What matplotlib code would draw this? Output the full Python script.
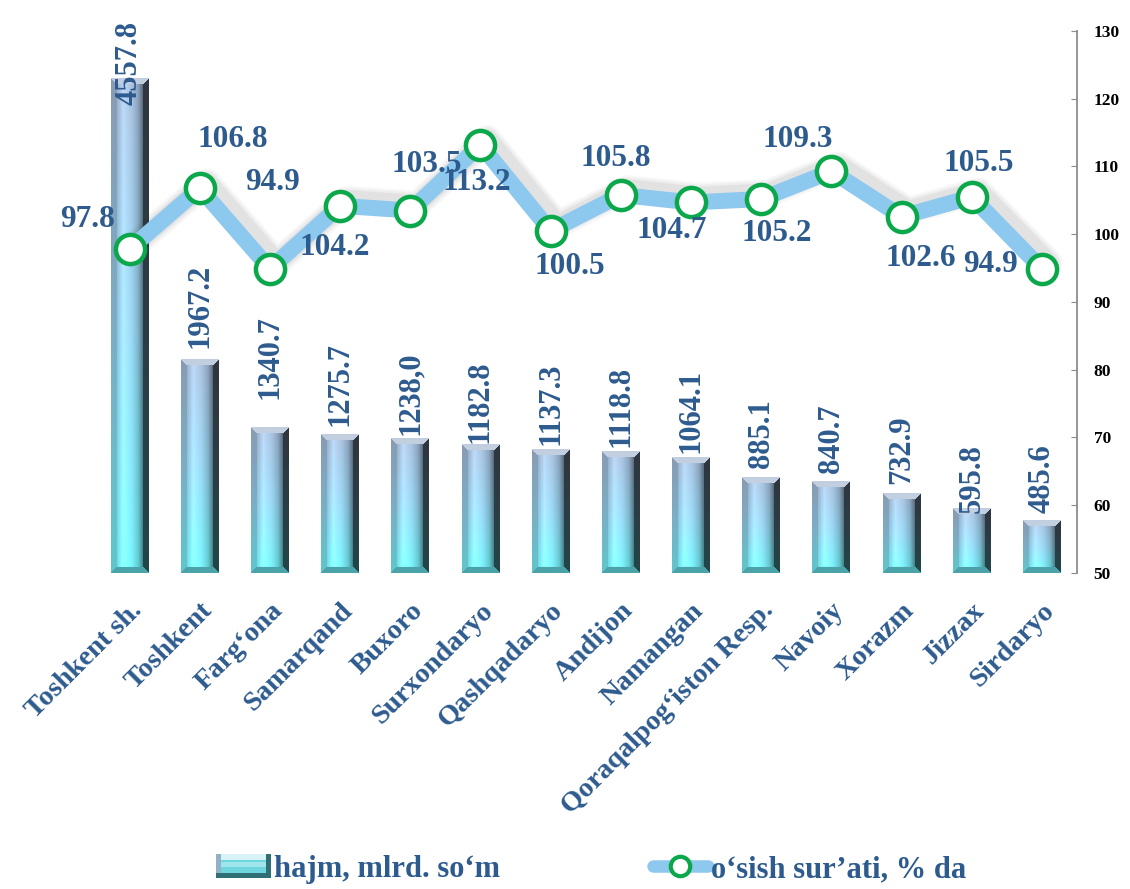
import numpy as np
import matplotlib
matplotlib.use("Agg")
import matplotlib.pyplot as plt
from matplotlib import transforms
from matplotlib.patches import Rectangle
from matplotlib.lines import Line2D
from matplotlib.legend_handler import HandlerBase

# ---------------- data ----------------
categories = ["Toshkent sh.", "Toshkent", "Farg\u2018ona", "Samarqand", "Buxoro",
              "Surxondaryo", "Qashqadaryo", "Andijon", "Namangan",
              "Qoraqalpog\u2018iston Resp.", "Navoiy", "Xorazm", "Jizzax", "Sirdaryo"]
volume = [4557.8, 1967.2, 1340.7, 1275.7, 1238.0, 1182.8, 1137.3, 1118.8,
          1064.1, 885.1, 840.7, 732.9, 595.8, 485.6]
volume_labels = ["4557.8", "1967.2", "1340.7", "1275.7", "1238,0", "1182.8", "1137.3",
                 "1118.8", "1064.1", "885.1", "840.7", "732.9", "595.8", "485.6"]
growth = [97.8, 106.8, 94.9, 104.2, 103.5, 113.2, 100.5, 105.8, 104.7, 105.2,
          109.3, 102.6, 105.5, 94.9]
series_names = ["hajm, mlrd. so\u2018m", "o\u2018sish sur\u2019ati, % da"]

# ---------------- styling ----------------
FONT = "Liberation Serif"
TXT = "#2E5B8E"
LINE_C = "#8DC8EE"
MARK_EDGE = "#0AA84A"
# label offsets (points) for growth labels, and gaps (px) for volume labels
growth_offsets = [(-30, 21), (24, 35), (2, 62), (-4, -30), (12, 33), (-3, -27),
                  (14, -26), (-4, 26), (-14, -20), (11, -25), (-24, 23), (14, -30),
                  (5, 24), (-37, 3)]
volume_gaps_px = [-26, 12, 29, 9, 4, 2, 5, 5, 5, 9, 9, 10, -5, 7]

W, H, DPI = 11.3, 8.89, 100
fig = plt.figure(figsize=(W, H), dpi=DPI)
L, R, B, T = 94.5, 1077, 316, 858
ax = fig.add_axes([L / 1130, B / 889, (R - L) / 1130, (T - B) / 889])
ax2 = ax.twinx()

x = np.arange(len(categories))
BW = 0.54
ax.set_xlim(-0.5, len(categories) - 0.5)
ax.set_ylim(0, 5000)
ax2.set_ylim(50, 130)


def bar_image(hpx, wpx=38, bev=6):
    Hh = max(int(round(hpx)), 2 * bev + 2)
    t = np.linspace(0, 1, Hh)[:, None, None]
    top_c = np.array([0.62, 0.71, 0.83])
    mid_c = np.array([0.56, 0.80, 0.91])
    bot_c = np.array([0.42, 0.92, 0.95])
    base = np.where(t < 0.5,
                    top_c * (1 - t / 0.5) + mid_c * (t / 0.5),
                    mid_c * (1 - (t - 0.5) / 0.5) + bot_c * ((t - 0.5) / 0.5))
    base = np.broadcast_to(base, (Hh, wpx, 3)).copy()
    u = np.linspace(0, 1, wpx)
    f = np.interp(u, [0, 0.12, 0.32, 0.55, 0.72, 0.86, 1.0],
                  [0.70, 0.85, 1.02, 0.98, 0.86, 0.55, 0.22])
    w = np.interp(u, [0, 0.12, 0.32, 0.55, 0.72, 0.86, 1.0],
                  [0.02, 0.05, 0.12, 0.06, 0.02, 0.0, 0.0])
    img = base * f[None, :, None] + w[None, :, None]
    ii, jj = np.mgrid[0:Hh, 0:wpx]
    d = np.stack([ii, Hh - 1 - ii, jj, wpx - 1 - jj])
    reg = np.argmin(d, axis=0)
    mn = np.min(d, axis=0)
    edge = mn < bev
    top = base * 0.55 + 0.42
    bot = base * 0.70
    left = base * 0.80 + 0.04
    right = base * 0.30
    for k, col in enumerate([top, bot, left, right]):
        m = edge & (reg == k)
        img[m] = col[m]
    return np.clip(img, 0, 1)


px_per_unit_y = (T - B) / 5000.0
px_per_unit_x = (R - L) / len(categories)

for xi, v in zip(x, volume):
    hpx = v * px_per_unit_y
    img = bar_image(hpx, wpx=int(round(BW * px_per_unit_x)))
    ax.imshow(img, extent=(xi - BW / 2, xi + BW / 2, 0, v), aspect="auto",
              interpolation="bilinear", zorder=2)
ax.set_xlim(-0.5, len(categories) - 0.5)
ax.set_ylim(0, 5000)

for xi, v, lab, g in zip(x, volume, volume_labels, volume_gaps_px):
    ax.annotate(lab, (xi, v), xytext=(0, g / 1.389), textcoords="offset points",
                rotation=90, ha="center", va="bottom", fontsize=22,
                fontfamily=FONT, fontweight="bold", color=TXT, zorder=3)

# soft line shadow
for lw, a in [(20, 0.035), (17, 0.045), (14, 0.06)]:
    tr = transforms.offset_copy(ax2.transData, fig=fig, x=7, y=6, units="dots")
    ax2.plot(x, growth, color="#303030", lw=lw, alpha=a, transform=tr,
             solid_joinstyle="round", solid_capstyle="round", zorder=1)
ax2.plot(x, growth, color=LINE_C, lw=11.5, solid_joinstyle="miter",
         solid_capstyle="butt", zorder=2,
         marker="o", ms=21, mfc="white", mec=MARK_EDGE, mew=3.2)

for xi, g, off in zip(x, growth, growth_offsets):
    ax2.annotate(f"{g:.1f}", (xi, g), xytext=off, textcoords="offset points",
                 ha="center", va="center", fontsize=22.5, fontfamily=FONT,
                 fontweight="bold", color=TXT, zorder=4)

# axes styling
for s in ["top", "left", "bottom", "right"]:
    ax.spines[s].set_visible(False)
    ax2.spines[s].set_visible(False)
ax2.spines["right"].set_visible(True)
ax2.spines["right"].set_color("#8c8c8c")
ax2.spines["right"].set_linewidth(1.3)
ax.set_yticks([])
ax2.set_yticks(np.arange(50, 131, 10))
ax2.tick_params(axis="y", direction="in", length=4, color="#8c8c8c", pad=12,
                labelsize=12.5)
for t in ax2.get_yticklabels():
    t.set_fontfamily(FONT)
    t.set_fontweight("bold")
    t.set_color("black")

ax.set_xticks(x)
ax.set_xticklabels(categories, rotation=45, ha="right", rotation_mode="anchor",
                   fontsize=20.5, fontfamily=FONT, fontweight="bold", color=TXT)
ax.tick_params(axis="x", length=0, pad=18)


class BarHandler(HandlerBase):
    def create_artists(self, legend, orig_handle, xd, yd, width, height, fontsize, trans):
        h = height * 1.1
        y0 = -yd + (height - h) / 2
        bev = h * 0.22
        arts = [Rectangle((-xd, y0), width, h, facecolor="#2f6f75", edgecolor="none",
                          transform=trans),
                Rectangle((-xd, y0 + bev), width - bev, h - bev,
                          facecolor="#8fb3c4", edgecolor="none", transform=trans),
                Rectangle((-xd + bev, y0 + h - bev), width - 2 * bev, bev,
                          facecolor="#d8f3f7", edgecolor="none", transform=trans),
                Rectangle((-xd + bev, y0 + bev), width - 2 * bev, h - 2 * bev,
                          facecolor="#6fd6de", edgecolor="none", transform=trans),
                Rectangle((-xd + bev, y0 + h * 0.45), width - 2 * bev, h * 0.22,
                          facecolor="#9fe6ec", edgecolor="none", transform=trans)]
        return arts


bar_proxy = Rectangle((0, 0), 1, 1)
line_proxy = Line2D([], [], color=LINE_C, lw=9, solid_capstyle="round",
                    marker="o", ms=14, mfc="white", mec=MARK_EDGE, mew=3)
leg = fig.legend([bar_proxy, line_proxy], series_names, loc="center",
                 bbox_to_anchor=(0.523, 0.022), ncol=2, frameon=False,
                 handler_map={Rectangle: BarHandler()},
                 prop={"family": FONT, "weight": "bold", "size": 22},
                 handlelength=1.8, handletextpad=0.1, columnspacing=5.0)
for t in leg.get_texts():
    t.set_color(TXT)

fig.savefig("out.png", dpi=DPI, facecolor="white")
